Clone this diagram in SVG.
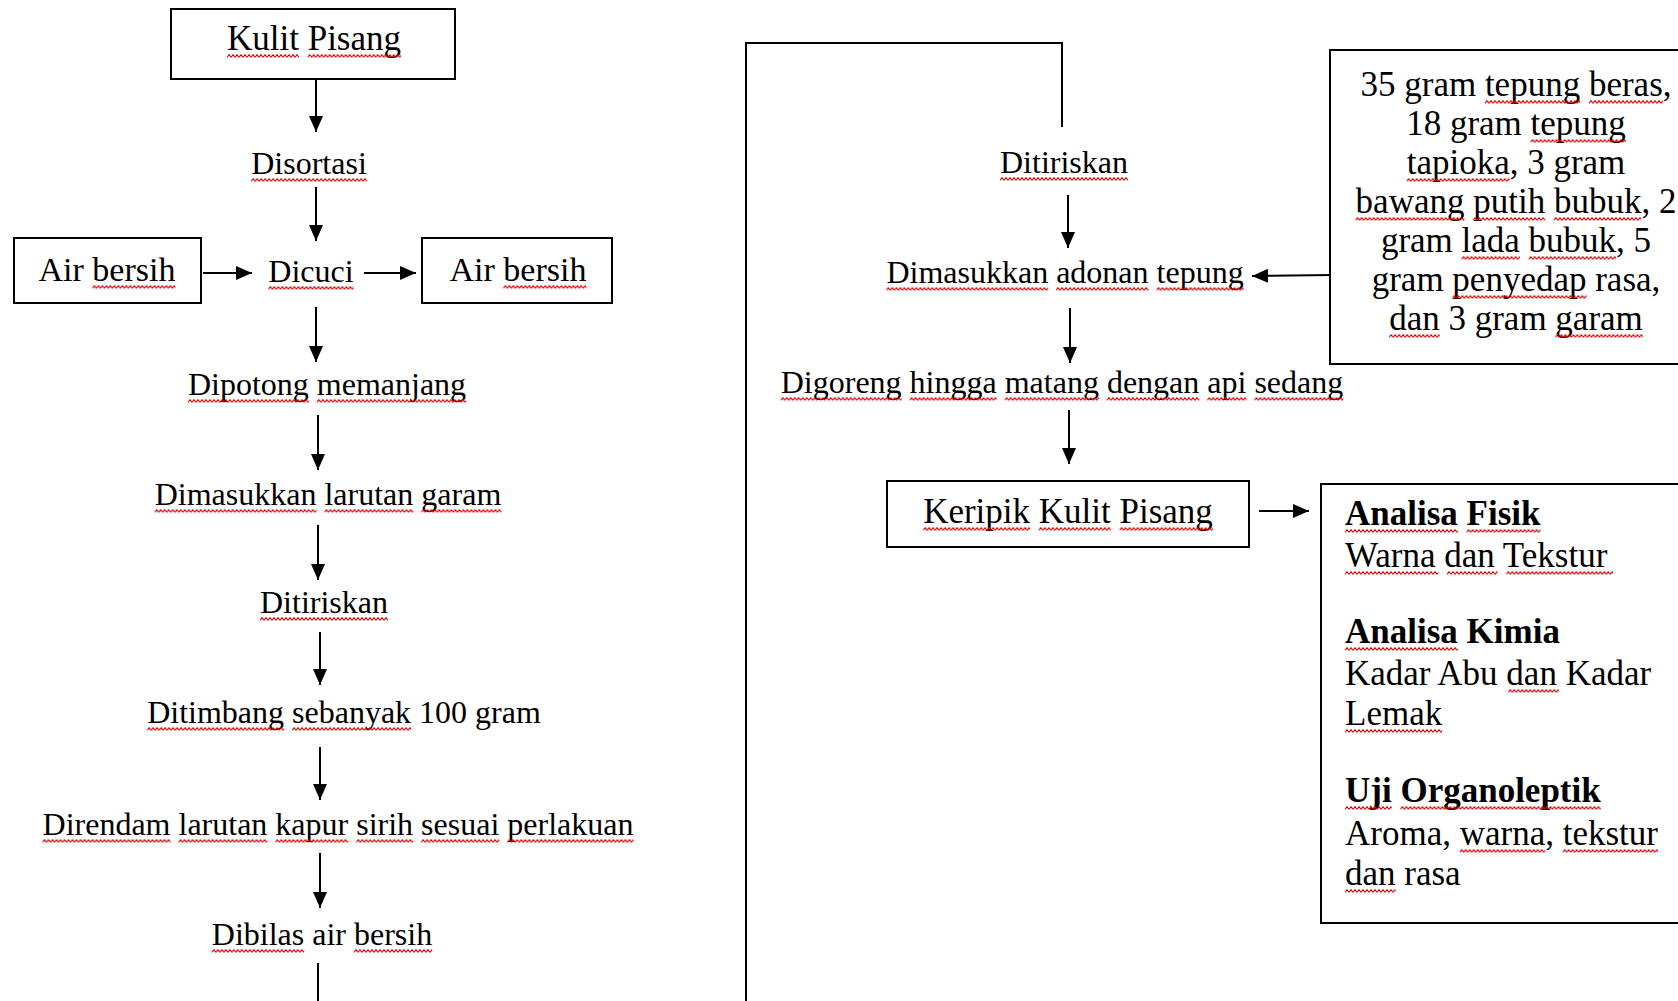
<svg xmlns="http://www.w3.org/2000/svg" width="1678" height="1001" viewBox="0 0 1678 1001">
<style>
text{font-family:"Liberation Serif","Times New Roman",serif;fill:#000}
.t{font-size:32px;text-anchor:middle}
.b{font-size:35px;text-anchor:middle}
.l{font-size:35px}
.h{font-weight:bold}
.box{fill:#fff;stroke:#000;stroke-width:2}
.ln{fill:none;stroke:#000;stroke-width:2}
.ar{fill:none;stroke:#000;stroke-width:2;marker-end:url(#ah)}
.w{fill:url(#wv);height:4px}
</style>
<defs>
<marker id="ah" markerUnits="userSpaceOnUse" markerWidth="16" markerHeight="14" refX="16" refY="7" orient="auto">
<path d="M0,0 L16,7 L0,14 z" fill="#000"/>
</marker>
<pattern id="wv" width="4" height="4" patternUnits="userSpaceOnUse">
<path d="M0,3.3 L2,0.7 L4,3.3" fill="none" stroke="#e00000" stroke-width="1.1"/>
</pattern>
</defs>
<rect width="1678" height="1001" fill="#fff"/>
<g id="connectors">
<line class="ar" x1="316" y1="79" x2="316" y2="132"/>
<line class="ar" x1="316" y1="187" x2="316" y2="241"/>
<line class="ar" x1="203" y1="273" x2="252" y2="273"/>
<line class="ar" x1="364" y1="273" x2="416" y2="273"/>
<line class="ar" x1="316" y1="307" x2="316" y2="362"/>
<line class="ar" x1="318" y1="415" x2="318" y2="470"/>
<line class="ar" x1="318" y1="525" x2="318" y2="580"/>
<line class="ar" x1="320" y1="632" x2="320" y2="685"/>
<line class="ar" x1="320" y1="747" x2="320" y2="800"/>
<line class="ar" x1="320" y1="853" x2="320" y2="908"/>
<line class="ln" x1="318" y1="963" x2="318" y2="1005"/>
<path class="ln" d="M746,1005 V43 H1062 V127"/>
<line class="ar" x1="1068" y1="195" x2="1068" y2="248"/>
<line class="ar" x1="1333" y1="275" x2="1252" y2="276"/>
<line class="ar" x1="1070" y1="308" x2="1070" y2="363"/>
<line class="ar" x1="1069" y1="410" x2="1069" y2="464"/>
<line class="ar" x1="1259" y1="511" x2="1309" y2="511"/>
</g>
<g id="n-kulit"><rect class="box" x="171" y="9" width="284" height="70"/><text class="b" x="314" y="50">Kulit Pisang</text></g>
<g id="n-disortasi"><text class="t" x="309" y="174">Disortasi</text></g>
<g id="n-air1"><rect class="box" x="14" y="238" width="187" height="65"/><text class="b" x="107" y="281" style="font-size:34px">Air bersih</text></g>
<g id="n-dicuci"><text class="t" x="311" y="282">Dicuci</text></g>
<g id="n-air2"><rect class="box" x="422" y="238" width="190" height="65"/><text class="b" x="518" y="281" style="font-size:34px">Air bersih</text></g>
<g id="n-potong"><text class="t" x="327" y="395">Dipotong memanjang</text></g>
<g id="n-garam"><text class="t" x="328" y="505">Dimasukkan larutan garam</text></g>
<g id="n-tiris1"><text class="t" x="324" y="613">Ditiriskan</text></g>
<g id="n-timbang"><text class="t" x="344" y="723">Ditimbang sebanyak 100 gram</text></g>
<g id="n-rendam"><text class="t" x="338" y="835">Direndam larutan kapur sirih sesuai perlakuan</text></g>
<g id="n-bilas"><text class="t" x="322" y="945">Dibilas air bersih</text></g>
<g id="n-tiris2"><text class="t" x="1064" y="173">Ditiriskan</text></g>
<g id="n-adonan"><text class="t" x="1065" y="283">Dimasukkan adonan tepung</text></g>
<g id="n-resep"><rect class="box" x="1330" y="50" width="400" height="314"/>
<text class="b" x="1516" y="96">35 gram tepung beras,</text>
<text class="b" x="1516" y="135">18 gram tepung</text>
<text class="b" x="1516" y="174">tapioka, 3 gram</text>
<text class="b" x="1516" y="213">bawang putih bubuk, 2</text>
<text class="b" x="1516" y="252">gram lada bubuk, 5</text>
<text class="b" x="1516" y="291">gram penyedap rasa,</text>
<text class="b" x="1516" y="330">dan 3 gram garam</text>
</g>
<g id="n-goreng"><text class="t" x="1062" y="393">Digoreng hingga matang dengan api sedang</text></g>
<g id="n-keripik"><rect class="box" x="887" y="481" width="362" height="66"/><text class="b" x="1068" y="523">Keripik Kulit Pisang</text></g>
<g id="n-analisa"><rect class="box" x="1321" y="484" width="400" height="439"/>
<text class="l h" x="1345" y="525">Analisa Fisik</text>
<text class="l" x="1345" y="567">Warna dan Tekstur</text>
<text class="l h" x="1345" y="643">Analisa Kimia</text>
<text class="l" x="1345" y="685">Kadar Abu dan Kadar</text>
<text class="l" x="1345" y="725">Lemak</text>
<text class="l h" x="1345" y="802">Uji Organoleptik</text>
<text class="l" x="1345" y="845">Aroma, warna, tekstur</text>
<text class="l" x="1345" y="885">dan rasa</text>
</g>
<g id="spellcheck">
<rect class="w" transform="translate(227,54)" width="72"/>
<rect class="w" transform="translate(307.7,54)" width="93.4"/>
<rect class="w" transform="translate(251.2,178)" width="115.6"/>
<rect class="w" transform="translate(92.4,285)" width="83.1"/>
<rect class="w" transform="translate(503.4,285)" width="83.1"/>
<rect class="w" transform="translate(268.4,286)" width="85.3"/>
<rect class="w" transform="translate(187.9,399)" width="120.9"/>
<rect class="w" transform="translate(316.8,399)" width="149.3"/>
<rect class="w" transform="translate(154.7,509)" width="161.8"/>
<rect class="w" transform="translate(324.5,509)" width="88.9"/>
<rect class="w" transform="translate(421.4,509)" width="80"/>
<rect class="w" transform="translate(260,617)" width="128"/>
<rect class="w" transform="translate(147.2,727)" width="136.9"/>
<rect class="w" transform="translate(292.1,727)" width="119.1"/>
<rect class="w" transform="translate(42.5,839)" width="128"/>
<rect class="w" transform="translate(178.5,839)" width="88.9"/>
<rect class="w" transform="translate(275.4,839)" width="72.9"/>
<rect class="w" transform="translate(356.3,839)" width="56.9"/>
<rect class="w" transform="translate(421.2,839)" width="78.2"/>
<rect class="w" transform="translate(507.4,839)" width="126.2"/>
<rect class="w" transform="translate(211.8,949)" width="92.4"/>
<rect class="w" transform="translate(354,949)" width="78.2"/>
<rect class="w" transform="translate(1000,177)" width="128"/>
<rect class="w" transform="translate(886.4,287)" width="161.8"/>
<rect class="w" transform="translate(1056.1,287)" width="92.4"/>
<rect class="w" transform="translate(1156.5,287)" width="87.1"/>
<rect class="w" transform="translate(1484.9,100)" width="95.3"/>
<rect class="w" transform="translate(1589,100)" width="73.9"/>
<rect class="w" transform="translate(1530.6,139)" width="95.3"/>
<rect class="w" transform="translate(1406.7,178)" width="103"/>
<rect class="w" transform="translate(1355.6,217)" width="108.9"/>
<rect class="w" transform="translate(1473.2,217)" width="72"/>
<rect class="w" transform="translate(1553.9,217)" width="87.5"/>
<rect class="w" transform="translate(1461.6,256)" width="58.3"/>
<rect class="w" transform="translate(1528.7,256)" width="87.5"/>
<rect class="w" transform="translate(1452.4,295)" width="134.1"/>
<rect class="w" transform="translate(1389.2,334)" width="50.5"/>
<rect class="w" transform="translate(1555.4,334)" width="87.5"/>
<rect class="w" transform="translate(780.7,397)" width="120.9"/>
<rect class="w" transform="translate(909.6,397)" width="87.1"/>
<rect class="w" transform="translate(1004.7,397)" width="94.2"/>
<rect class="w" transform="translate(1106.9,397)" width="92.4"/>
<rect class="w" transform="translate(1207.3,397)" width="39.1"/>
<rect class="w" transform="translate(1254.4,397)" width="88.9"/>
<rect class="w" transform="translate(923.2,527)" width="106.9"/>
<rect class="w" transform="translate(1038.8,527)" width="72"/>
<rect class="w" transform="translate(1119.6,527)" width="93.4"/>
<rect class="w" transform="translate(1345,529)" width="112.8"/>
<rect class="w" transform="translate(1466.6,529)" width="73.9"/>
<rect class="w" transform="translate(1345,571)" width="93.3"/>
<rect class="w" transform="translate(1447,571)" width="50.5"/>
<rect class="w" transform="translate(1506.3,571)" width="106.9"/>
<rect class="w" transform="translate(1345,647)" width="112.8"/>
<rect class="w" transform="translate(1508.3,689)" width="50.5"/>
<rect class="w" transform="translate(1345,729)" width="97.2"/>
<rect class="w" transform="translate(1345,806)" width="46.7"/>
<rect class="w" transform="translate(1400.4,806)" width="200.3"/>
<rect class="w" transform="translate(1459.7,849)" width="85.5"/>
<rect class="w" transform="translate(1562.7,849)" width="95.3"/>
<rect class="w" transform="translate(1345,889)" width="50.5"/>
</g>
</svg>
